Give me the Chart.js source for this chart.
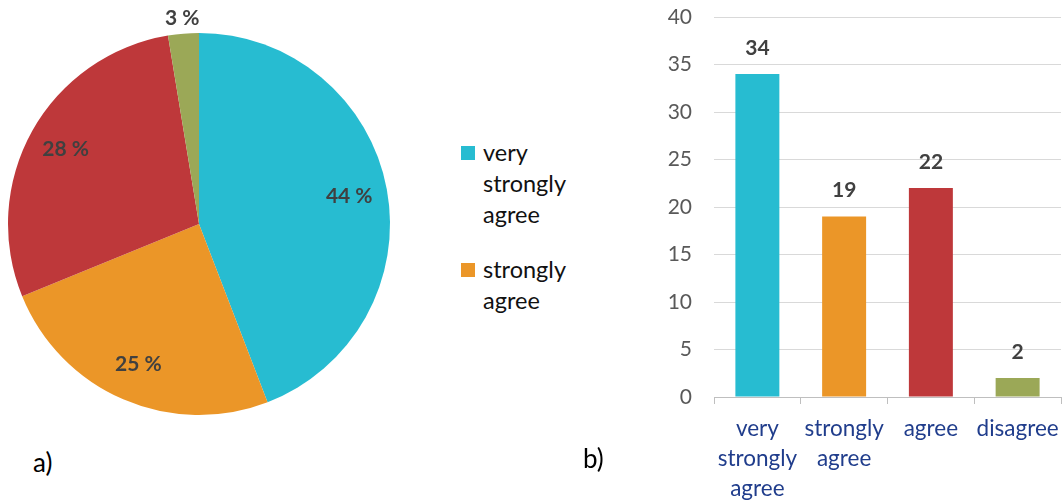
<!DOCTYPE html>
<html>
<head>
<meta charset="utf-8">
<script src="https://cdn.jsdelivr.net/npm/chart.js@4/dist/chart.umd.min.js"></script>
<style>
  html, body { margin: 0; padding: 0; background: #fff; }
  body { width: 1063px; height: 500px; position: relative; overflow: hidden; font-family: Lato, "Open Sans", sans-serif; }
  #pieBox { position: absolute; left: 0; top: 0; width: 420px; height: 440px; }
  #barBox { position: absolute; left: 600px; top: 0; width: 463px; height: 500px; }
  .panel { position: absolute; font-size: 26px; color: #000; line-height: 1; }
  .legend { position: absolute; left: 461px; font-size: 23.5px; color: #111; line-height: 31px; }
  .legend .sw { position: absolute; left: 0; width: 14px; height: 14px; }
  .legend .tx { position: absolute; left: 22px; white-space: nowrap; }
</style>
</head>
<body>
<div id="pieBox"><canvas id="pie"></canvas></div>
<div id="barBox"><canvas id="bar"></canvas></div>
<div class="panel" style="left:33px; top:449px;">a)</div>
<div class="panel" style="left:583px; top:445px;">b)</div>
<div id="legend"></div>
<script>
// ---- data ----
const categories = ["very strongly agree", "strongly agree", "agree", "disagree"];
const categoryLines = [["very", "strongly", "agree"], ["strongly", "agree"], ["agree"], ["disagree"]];
const counts = [34, 19, 22, 2];
const percentLabels = ["44 %", "25 %", "28 %", "3 %"];
const colors = ["#27BCD1", "#EB9628", "#BE383A", "#9BA857"];
const legendShown = [0, 1];
const yTicks = [0, 5, 10, 15, 20, 25, 30, 35, 40];

Chart.defaults.font.family = "Lato, 'Open Sans', sans-serif";

// ---- HTML legend (only the two entries visible in the reference) ----
const legendTops = [137, 254];
const legendLines = [["very", "strongly", "agree"], ["strongly", "agree"]];
const lg = document.getElementById('legend');
legendShown.forEach((idx, k) => {
  const d = document.createElement('div');
  d.className = 'legend';
  d.style.top = legendTops[k] + 'px';
  d.innerHTML = '<div class="sw" style="top:9px;background:' + colors[idx] + '"></div>' +
    '<div class="tx">' + legendLines[k].join('<br>') + '</div>';
  lg.appendChild(d);
});

// ---- pie labels plugin ----
const pieLabels = {
  id: 'pieLabels',
  afterDatasetsDraw(chart) {
    const ctx = chart.ctx;
    const meta = chart.getDatasetMeta(0);
    const total = counts.reduce((a, b) => a + b, 0);
    ctx.save();
    ctx.font = "bold 21px Lato, 'Open Sans', sans-serif";
    ctx.fillStyle = '#404040';
    ctx.textAlign = 'center';
    ctx.textBaseline = 'middle';
    meta.data.forEach((arc, i) => {
      const p = arc.getProps(['x', 'y', 'startAngle', 'endAngle', 'outerRadius'], true);
      const mid = (p.startAngle + p.endAngle) / 2;
      const f = counts[i] / total < 0.05 ? 1.08 : 0.8;
      ctx.fillText(percentLabels[i], p.x + Math.cos(mid) * p.outerRadius * f, p.y + Math.sin(mid) * p.outerRadius * f);
    });
    ctx.restore();
  }
};

new Chart(document.getElementById('pie'), {
  type: 'pie',
  data: {
    labels: categories,
    datasets: [{ data: counts, backgroundColor: colors, borderWidth: 0 }]
  },
  options: {
    responsive: true,
    maintainAspectRatio: false,
    animation: false,
    layout: { padding: { left: 8, top: 33, right: 30, bottom: 25 } },
    plugins: { legend: { display: false }, tooltip: { enabled: false } }
  },
  plugins: [pieLabels]
});

// ---- bar value labels plugin ----
const barLabels = {
  id: 'barLabels',
  afterDatasetsDraw(chart) {
    const ctx = chart.ctx;
    const meta = chart.getDatasetMeta(0);
    ctx.save();
    ctx.font = "bold 21px Lato, 'Open Sans', sans-serif";
    ctx.fillStyle = '#404040';
    ctx.textAlign = 'center';
    ctx.textBaseline = 'middle';
    meta.data.forEach((bar, i) => {
      ctx.fillText(String(counts[i]), bar.x, bar.y - 26);
    });
    ctx.restore();
  }
};

new Chart(document.getElementById('bar'), {
  type: 'bar',
  data: {
    labels: categoryLines,
    datasets: [{ data: counts, backgroundColor: colors, borderWidth: 0, categoryPercentage: 1, barPercentage: 0.507 }]
  },
  options: {
    responsive: true,
    maintainAspectRatio: false,
    animation: false,
    layout: { padding: { top: 17, right: 2, left: 0, bottom: 0 } },
    plugins: { legend: { display: false }, tooltip: { enabled: false } },
    scales: {
      y: {
        min: 0, max: 40,
        afterBuildTicks(scale) { scale.ticks = yTicks.map(v => ({ value: v })); },
        afterFit(scale) { scale.width = 114; scale.paddingTop = 0; scale.paddingBottom = 0; },
        ticks: { color: '#595959', font: { size: 21 }, padding: 22 },
        grid: { color: '#d9d9d9', lineWidth: 1, drawTicks: false },
        border: { display: false }
      },
      x: {
        afterFit(scale) { scale.height = 103; scale.paddingLeft = 0; scale.paddingRight = 0; },
        ticks: { color: '#203D8C', font: { size: 22.5, lineHeight: 1.33 }, padding: 10, maxRotation: 0, autoSkip: false },
        grid: { display: true, drawOnChartArea: false, drawTicks: true, tickLength: 7, offset: true, color: '#bfbfbf' },
        border: { display: true, color: '#bfbfbf', width: 1 }
      }
    }
  },
  plugins: [barLabels]
});
</script>
</body>
</html>
